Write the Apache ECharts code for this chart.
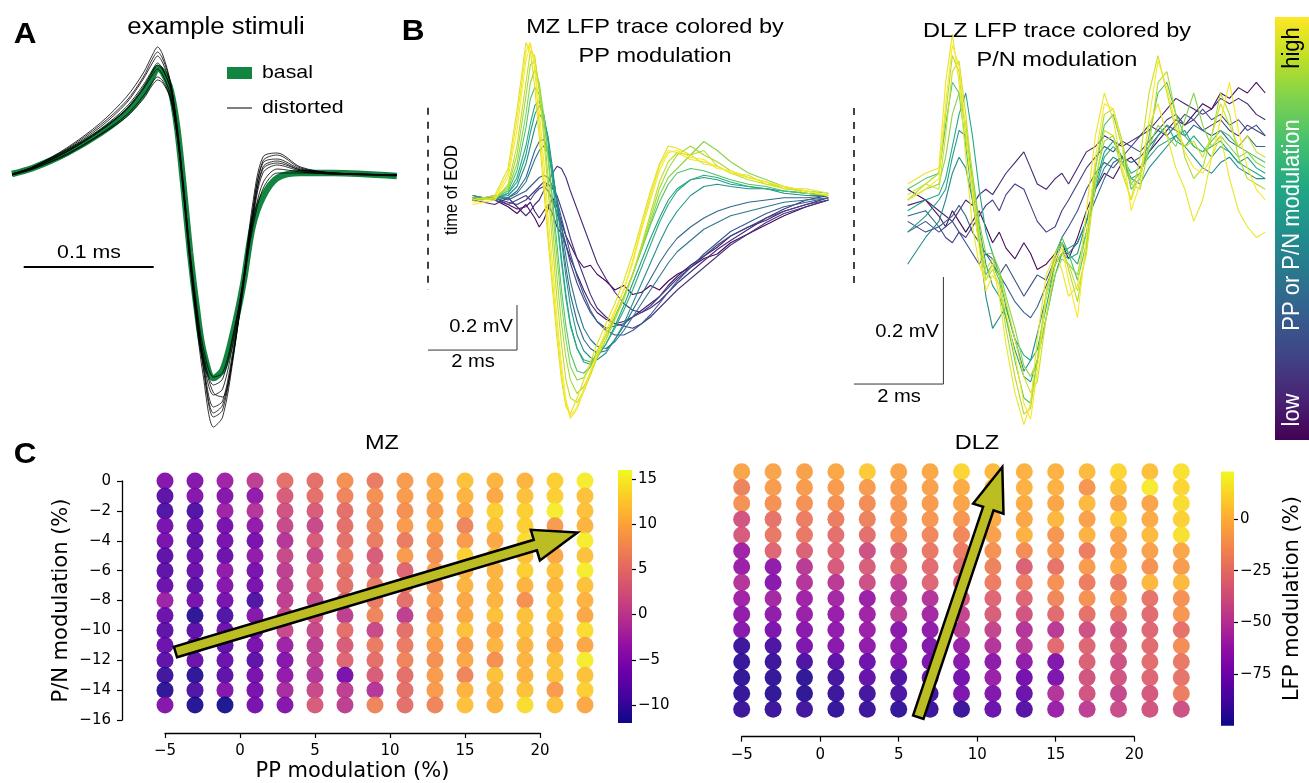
<!DOCTYPE html>
<html>
<head>
<meta charset="utf-8">
<script src="https://cdn.jsdelivr.net/npm/echarts@6/dist/echarts.min.js"></script>
<style>
html,body{margin:0;padding:0;background:#fff;}
#chart{width:1309px;height:783px;}
</style>
</head>
<body>
<div id="chart"></div>
<script>
// ---------- Panel A: example stimuli (time in microseconds, amplitude in a.u.) ----------
const stimTime = [0,16,42,68,88,101,108,112,116,122,127,132,137,142,147,155,162,170,178,185,193,204,222,247,296];
const basalEOD = [0.01,0.07,0.22,0.42,0.62,0.82,0.98,1.07,1.03,0.85,0.48,-0.12,-0.78,-1.32,-1.75,-2.03,-1.95,-1.58,-1.08,-0.52,-0.22,-0.03,0.02,0.02,-0.01];
const distortedEODs = [
  [0.0,0.08,0.27,0.52,0.78,1.02,1.2,1.28,1.2,0.92,0.45,-0.2,-0.9,-1.5,-2.0,-2.52,-2.42,-1.85,-1.05,-0.3,0.18,0.22,0.08,0.02,0.0],
  [0.01,0.08,0.25,0.48,0.72,0.96,1.12,1.19,1.12,0.9,0.46,-0.16,-0.86,-1.44,-1.92,-2.42,-2.35,-1.8,-1.05,-0.36,0.12,0.16,0.06,0.02,0.0],
  [0.0,0.07,0.24,0.46,0.68,0.9,1.05,1.12,1.06,0.86,0.44,-0.15,-0.83,-1.4,-1.86,-2.32,-2.26,-1.75,-1.06,-0.42,0.06,0.12,0.05,0.02,0.0],
  [0.01,0.07,0.23,0.44,0.65,0.86,1.0,1.06,1.0,0.8,0.4,-0.2,-0.86,-1.4,-1.84,-2.2,-2.14,-1.68,-1.04,-0.46,0.02,0.1,0.04,0.01,0.0],
  [0.0,0.06,0.21,0.41,0.6,0.79,0.93,0.98,0.94,0.77,0.4,-0.18,-0.82,-1.36,-1.78,-2.1,-2.04,-1.62,-1.05,-0.5,-0.08,0.06,0.03,0.01,0.0],
  [0.01,0.07,0.23,0.45,0.66,0.88,1.03,1.1,1.05,0.86,0.46,-0.16,-0.84,-1.42,-1.9,-2.38,-2.3,-1.82,-1.12,-0.44,0.08,0.14,0.05,0.02,0.0],
  [0.0,0.06,0.2,0.4,0.58,0.76,0.9,0.95,0.92,0.76,0.4,-0.14,-0.76,-1.3,-1.72,-2.02,-1.98,-1.6,-1.08,-0.54,-0.14,0.02,0.02,0.01,-0.01],
  [0.01,0.08,0.26,0.5,0.74,0.98,1.16,1.23,1.16,0.92,0.5,-0.1,-0.8,-1.36,-1.82,-2.18,-2.22,-1.8,-1.1,-0.38,0.14,0.2,0.07,0.02,0.0]
];

// ---------- Panel B: LFP traces (time in ms after EOD, voltage in mV) ----------
const mzTime = [1.0,1.5,1.8,2.0,2.2,2.3,2.4,2.5,2.6,2.7,2.8,2.9,3.0,3.1,3.2,3.35,3.5,3.65,3.8,4.0,4.2,4.4,4.6,4.8,5.0,5.2,5.4,5.6,5.9,6.2,6.5,6.8,7.2,7.6,8.0,8.5,9.0];
const mzPPLevel = [0.02,0.07,0.12,0.16,0.2,0.28,0.33,0.4,0.5,0.56,0.62,0.72,0.82,0.86,0.9,0.95,0.98,1.0];
const mzTraces = [
  [0.02,0.0,-0.03,-0.06,-0.02,-0.05,-0.08,-0.12,-0.09,-0.04,0.01,-0.03,-0.10,-0.16,-0.20,-0.26,-0.30,-0.29,-0.33,-0.36,-0.40,-0.38,-0.42,-0.41,-0.38,-0.40,-0.36,-0.33,-0.30,-0.26,-0.24,-0.19,-0.15,-0.11,-0.07,-0.03,0.0],
  [0.0,0.01,-0.02,-0.04,-0.03,-0.01,-0.05,-0.08,-0.05,-0.02,-0.06,-0.12,-0.15,-0.2,-0.26,-0.33,-0.4,-0.46,-0.5,-0.53,-0.55,-0.54,-0.52,-0.49,-0.46,-0.43,-0.38,-0.34,-0.29,-0.25,-0.21,-0.16,-0.12,-0.09,-0.05,-0.02,0.01],
  [0.0,-0.02,0.01,-0.03,-0.07,-0.05,-0.02,0.0,0.04,0.08,0.12,0.15,0.14,0.1,0.04,-0.04,-0.12,-0.2,-0.28,-0.35,-0.41,-0.46,-0.49,-0.5,-0.48,-0.45,-0.41,-0.37,-0.32,-0.27,-0.22,-0.18,-0.13,-0.08,-0.04,0.0,0.02],
  [0.0,0.01,-0.01,-0.02,0.0,0.02,0.04,0.06,0.08,0.07,0.05,0.02,-0.04,-0.1,-0.17,-0.26,-0.34,-0.42,-0.48,-0.52,-0.55,-0.56,-0.57,-0.55,-0.52,-0.48,-0.44,-0.4,-0.35,-0.3,-0.25,-0.2,-0.15,-0.1,-0.06,-0.03,0.0],
  [0.01,0.0,-0.02,0.0,0.02,0.0,0.03,0.05,0.06,0.04,0.0,-0.06,-0.12,-0.2,-0.28,-0.37,-0.44,-0.5,-0.54,-0.57,-0.56,-0.55,-0.52,-0.5,-0.47,-0.43,-0.39,-0.35,-0.3,-0.25,-0.2,-0.16,-0.12,-0.08,-0.05,-0.02,0.0],
  [0.0,0.02,0.0,0.02,0.04,0.06,0.08,0.10,0.11,0.10,0.06,0.0,-0.08,-0.16,-0.24,-0.34,-0.42,-0.49,-0.54,-0.58,-0.60,-0.60,-0.58,-0.55,-0.51,-0.46,-0.41,-0.36,-0.30,-0.24,-0.19,-0.14,-0.10,-0.06,-0.03,-0.01,0.01],
  [0.0,0.01,0.01,0.04,0.1,0.16,0.22,0.26,0.27,0.22,0.12,-0.02,-0.16,-0.3,-0.42,-0.54,-0.62,-0.66,-0.68,-0.67,-0.62,-0.56,-0.49,-0.42,-0.35,-0.28,-0.22,-0.17,-0.12,-0.08,-0.05,-0.03,-0.01,0.0,0.01,0.01,0.02],
  [0.01,0.0,0.01,0.03,0.08,0.13,0.18,0.22,0.24,0.21,0.12,0.0,-0.12,-0.25,-0.36,-0.48,-0.57,-0.62,-0.65,-0.66,-0.63,-0.58,-0.52,-0.46,-0.40,-0.34,-0.28,-0.23,-0.18,-0.13,-0.10,-0.07,-0.05,-0.03,-0.01,0.0,0.01],
  [0.0,0.01,0.02,0.06,0.16,0.24,0.32,0.38,0.36,0.28,0.14,-0.02,-0.18,-0.34,-0.47,-0.60,-0.67,-0.70,-0.71,-0.68,-0.62,-0.55,-0.46,-0.37,-0.28,-0.19,-0.11,-0.05,0.02,0.06,0.07,0.06,0.05,0.05,0.03,0.02,0.02],
  [0.01,0.01,0.03,0.08,0.2,0.3,0.38,0.42,0.38,0.27,0.1,-0.08,-0.26,-0.42,-0.55,-0.66,-0.72,-0.73,-0.7,-0.64,-0.56,-0.47,-0.37,-0.27,-0.17,-0.08,0.0,0.05,0.09,0.1,0.09,0.07,0.06,0.05,0.04,0.03,0.02],
  [0.02,0.0,0.03,0.10,0.24,0.34,0.42,0.44,0.38,0.25,0.08,-0.10,-0.28,-0.44,-0.56,-0.66,-0.71,-0.72,-0.69,-0.64,-0.57,-0.49,-0.40,-0.30,-0.20,-0.10,-0.02,0.04,0.09,0.11,0.10,0.08,0.06,0.05,0.04,0.03,0.02],
  [0.0,0.01,0.04,0.13,0.32,0.45,0.5,0.47,0.36,0.2,0.0,-0.2,-0.4,-0.56,-0.68,-0.76,-0.77,-0.74,-0.68,-0.6,-0.52,-0.43,-0.33,-0.22,-0.11,-0.01,0.07,0.12,0.14,0.13,0.11,0.09,0.07,0.06,0.04,0.03,0.02],
  [0.0,0.01,0.05,0.16,0.38,0.52,0.58,0.52,0.38,0.18,-0.04,-0.26,-0.46,-0.62,-0.74,-0.80,-0.79,-0.74,-0.67,-0.60,-0.52,-0.43,-0.33,-0.22,-0.10,0.02,0.10,0.14,0.20,0.26,0.22,0.17,0.12,0.09,0.06,0.04,0.03],
  [0.0,0.01,0.06,0.2,0.46,0.6,0.62,0.5,0.32,0.1,-0.12,-0.35,-0.55,-0.7,-0.8,-0.86,-0.83,-0.77,-0.7,-0.62,-0.53,-0.44,-0.33,-0.21,-0.08,0.05,0.14,0.2,0.24,0.2,0.17,0.13,0.1,0.08,0.05,0.04,0.02],
  [0.01,0.0,0.07,0.24,0.52,0.66,0.64,0.48,0.28,0.04,-0.20,-0.44,-0.64,-0.80,-0.88,-0.90,-0.85,-0.78,-0.70,-0.62,-0.53,-0.44,-0.33,-0.20,-0.06,0.08,0.17,0.21,0.20,0.22,0.15,0.12,0.09,0.07,0.06,0.03,0.02],
  [0.0,0.02,0.14,0.40,0.70,0.66,0.50,0.28,0.05,-0.18,-0.40,-0.62,-0.80,-0.92,-0.95,-0.88,-0.80,-0.72,-0.64,-0.55,-0.46,-0.36,-0.24,-0.10,0.04,0.16,0.24,0.23,0.20,0.16,0.15,0.12,0.11,0.07,0.05,0.05,0.03],
  [-0.01,0.01,0.12,0.36,0.66,0.7,0.58,0.34,0.1,-0.14,-0.36,-0.58,-0.77,-0.9,-0.97,-0.93,-0.85,-0.77,-0.69,-0.6,-0.5,-0.4,-0.27,-0.12,0.02,0.15,0.22,0.21,0.18,0.17,0.15,0.12,0.1,0.08,0.06,0.04,0.02],
  [-0.02,0,0.10,0.31,0.62,0.69,0.62,0.40,0.18,-0.07,-0.29,-0.53,-0.73,-0.89,-0.96,-0.92,-0.84,-0.76,-0.68,-0.58,-0.49,-0.40,-0.28,-0.13,0.0,0.13,0.21,0.22,0.19,0.18,0.14,0.13,0.10,0.08,0.06,0.04,0.02]
];

const dlzTime = [1.2,1.6,1.9,2.05,2.2,2.35,2.5,2.65,2.8,2.95,3.1,3.25,3.4,3.6,3.8,3.95,4.1,4.3,4.5,4.65,4.8,5.0,5.2,5.4,5.6,5.8,6.0,6.2,6.4,6.6,6.8,7.0,7.2,7.4,7.6,7.8,8.0,8.2,8.4,8.6,8.8,9.0,9.2];
const dlzPNLevel = [0.03,0.1,0.18,0.25,0.32,0.48,0.55,0.6,0.72,0.82,0.88,0.92,0.97,1.0];
const dlzTraces = [
  [0.02,0.0,-0.03,-0.05,-0.02,-0.04,-0.06,-0.04,-0.02,-0.05,-0.08,-0.06,-0.09,-0.11,-0.08,-0.1,-0.13,-0.12,-0.1,-0.08,-0.11,-0.07,-0.02,0.02,0.05,0.04,0.07,0.08,0.06,0.09,0.11,0.13,0.15,0.14,0.16,0.18,0.17,0.2,0.19,0.21,0.2,0.22,0.2],
  [-0.01,0.0,-0.02,-0.03,-0.04,-0.02,0.0,-0.01,0.01,0.02,0.01,0.03,0.05,0.07,0.09,0.06,0.03,0.02,0.04,0.05,0.03,0.06,0.09,0.1,0.12,0.11,0.1,0.11,0.12,0.13,0.15,0.17,0.19,0.18,0.17,0.16,0.17,0.19,0.18,0.19,0.18,0.16,0.15],
  [-0.04,-0.06,-0.05,-0.07,-0.08,-0.06,-0.07,-0.05,-0.03,-0.01,0.0,-0.02,0.01,0.03,0.02,-0.01,-0.04,-0.06,-0.05,-0.02,0.0,0.03,0.06,0.08,0.1,0.09,0.11,0.1,0.12,0.14,0.13,0.15,0.16,0.14,0.15,0.13,0.14,0.15,0.13,0.12,0.14,0.13,0.12],
  [-0.06,-0.04,-0.06,-0.05,-0.04,-0.06,-0.08,-0.1,-0.12,-0.1,-0.11,-0.14,-0.12,-0.15,-0.18,-0.16,-0.14,-0.15,-0.11,-0.07,-0.05,-0.02,0.02,0.05,0.07,0.06,0.08,0.1,0.09,0.11,0.13,0.12,0.14,0.16,0.15,0.17,0.15,0.16,0.14,0.15,0.13,0.14,0.12],
  [-0.03,-0.02,-0.05,-0.04,-0.03,-0.01,-0.03,-0.06,-0.08,-0.1,-0.12,-0.14,-0.16,-0.19,-0.21,-0.22,-0.2,-0.16,-0.12,-0.1,-0.1,-0.08,-0.04,0.0,0.04,0.07,0.08,0.07,0.08,0.1,0.12,0.14,0.13,0.12,0.14,0.13,0.12,0.13,0.11,0.1,0.12,0.1,0.1],
  [-0.12,-0.07,-0.04,0.0,0.05,0.08,0.06,0.0,-0.08,-0.18,-0.24,-0.22,-0.2,-0.26,-0.32,-0.3,-0.25,-0.18,-0.12,-0.1,-0.09,-0.08,-0.04,0.02,0.06,0.08,0.07,0.04,0.03,0.06,0.08,0.1,0.12,0.1,0.08,0.06,0.05,0.07,0.08,0.06,0.05,0.04,0.04],
  [-0.06,-0.03,0.0,0.02,0.08,0.13,0.12,0.04,-0.05,-0.12,-0.16,-0.18,-0.22,-0.28,-0.33,-0.34,-0.3,-0.22,-0.14,-0.1,-0.11,-0.1,-0.04,0.03,0.09,0.11,0.08,0.04,0.05,0.09,0.12,0.14,0.11,0.1,0.12,0.1,0.08,0.1,0.09,0.07,0.06,0.05,0.04],
  [-0.02,0.0,0.01,0.04,0.1,0.16,0.2,0.12,0.02,-0.06,-0.1,-0.14,-0.2,-0.26,-0.29,-0.3,-0.28,-0.2,-0.12,-0.08,-0.1,-0.12,-0.06,0.02,0.08,0.1,0.08,0.05,0.06,0.08,0.1,0.11,0.12,0.13,0.1,0.09,0.1,0.11,0.09,0.07,0.08,0.06,0.05],
  [0.02,0.04,0.05,0.14,0.22,0.2,0.1,0.0,-0.08,-0.14,-0.12,-0.15,-0.22,-0.3,-0.37,-0.38,-0.3,-0.18,-0.1,-0.07,-0.1,-0.15,-0.08,0.06,0.14,0.16,0.1,0.02,0.04,0.12,0.2,0.22,0.16,0.12,0.1,0.09,0.11,0.13,0.12,0.1,0.09,0.08,0.07],
  [0.0,0.02,0.03,0.08,0.16,0.2,0.14,0.05,-0.04,-0.1,-0.1,-0.13,-0.18,-0.24,-0.31,-0.33,-0.3,-0.22,-0.14,-0.11,-0.12,-0.14,-0.06,0.04,0.11,0.12,0.07,0.03,0.05,0.1,0.14,0.12,0.1,0.15,0.2,0.14,0.1,0.12,0.1,0.08,0.09,0.07,0.06],
  [0.0,0.03,0.05,0.16,0.27,0.24,0.12,0.02,-0.07,-0.15,-0.13,-0.16,-0.24,-0.33,-0.4,-0.39,-0.3,-0.17,-0.1,-0.08,-0.13,-0.19,-0.09,0.06,0.16,0.17,0.11,0.03,0.02,0.1,0.22,0.24,0.16,0.08,0.04,0.06,0.12,0.2,0.16,0.08,0.04,0.03,0.02],
  [0.01,0.03,0.02,0.12,0.24,0.26,0.16,0.04,-0.06,-0.13,-0.11,-0.14,-0.19,-0.26,-0.33,-0.36,-0.34,-0.22,-0.12,-0.10,-0.12,-0.17,-0.10,0.03,0.13,0.12,0.05,0.0,0.08,0.2,0.27,0.2,0.13,0.1,0.11,0.08,0.12,0.18,0.14,0.1,0.12,0.09,0.08],
  [0.03,0.05,0.06,0.22,0.31,0.22,0.08,-0.05,-0.12,-0.15,-0.12,-0.18,-0.27,-0.36,-0.42,-0.38,-0.26,-0.14,-0.10,-0.13,-0.18,-0.16,-0.02,0.12,0.20,0.15,0.06,0.0,0.05,0.14,0.18,0.12,0.06,0.02,-0.04,0.0,0.08,0.12,0.04,-0.02,-0.05,-0.07,-0.06],
  [0.0,0.02,0.04,0.18,0.29,0.25,0.13,0.01,-0.09,-0.17,-0.14,-0.16,-0.21,-0.29,-0.38,-0.41,-0.32,-0.18,-0.11,-0.09,-0.15,-0.22,-0.07,0.08,0.18,0.17,0.1,-0.02,0.03,0.15,0.26,0.21,0.14,0.09,0.06,0.05,0.08,0.15,0.22,0.13,0.06,0.02,0.0]
];

// ---------- Panel C: LFP modulation (%) on the PP x P/N stimulus grid ----------
const ppModulation = [-5,-3,-1,1,3,5,7,9,11,13,15,17,19,21,23];
const pnModulation = [0,-1,-2,-3,-4,-5,-6,-7,-8,-9,-10,-11,-12,-13,-14,-15];
// one row per PP column, values listed from P/N = 0 down to P/N = -15
const mzLfpModulation = [
  [-5,-8,-9,-6,-6,-8,-8,-7,-3,-7,-8,-7,-8,-10,-11,-5],
  [-5,-5,-9,-7,-8,-7,-7,-8,-6,-11,-8,-7,-7,-11,-9,-11.5],
  [-3,-5,-3,-6,-6,-7,-4,-5,-6,-9,-7,-8,-7,-8,-5,-12],
  [0,-4,-1,-4,-6,-4,-6,-6,-9,-5,-6,-6,-8,-6,-6,-6],
  [5,3,2,1,-1,1,0,0,0,1,1,-3,-5,-4,-2,-5],
  [5,5,3,1,3,1,3,3,1,2,1,0,0,-1,1,3],
  [8,7,5,5,5,6,5,5,4,0,5,3,4,-6,0,0],
  [6,8,7,7,6,3,4,6,6,7,1,6,5,3,-1,7],
  [9,9,8,9,6,9,4,6,5,0,5,6,7,5,5,5],
  [10,10,9,10,8,8,9,8,9,8,10,9,8,9,9,7],
  [12,11,10,7,9,13,11,11,10,10,12,9,10,7,11,12],
  [11,10,13,12,10,12,11,11,11,12,10,11,8,12,11,11],
  [11,12,13,13,14,12,13,11,8,12,12,11,11,11,12,14],
  [13,13,15,9,9,10,12,11,12,12,11,10,12,12,9,12],
  [15,12,12,11,15,12,15,12,11,10,14,10,15,12,13,10]
];
const dlzLfpModulation = [
  [-5,-18,-12,-38,-35,-60,-62,-52,-60,-65,-68,-92,-94,-95,-94,-92],
  [-5,-8,-12,-24,-22,-30,-65,-68,-58,-65,-72,-88,-92,-94,-95,-92],
  [-6,-8,-12,-20,-22,-32,-50,-52,-60,-62,-68,-72,-88,-95,-96,-90],
  [-3,-8,-12,-20,-26,-30,-35,-50,-58,-63,-65,-68,-83,-90,-92,-94],
  [8,-8,-14,-18,-26,-40,-34,-40,-62,-60,-62,-65,-78,-80,-90,-92],
  [-5,-8,-10,-12,-14,-32,-28,-46,-52,-48,-68,-65,-70,-88,-88,-94],
  [-3,-6,-8,-10,-16,-22,-28,-30,-52,-58,-65,-70,-72,-78,-90,-92],
  [12,-2,-5,-10,-16,-20,-26,-32,-38,-45,-50,-62,-68,-74,-72,-92],
  [3,2,0,-2,-6,-12,-18,-20,-30,-34,-45,-52,-66,-62,-70,-78],
  [0,0,-2,-4,0,-14,-32,-20,-30,-38,-52,-50,-65,-75,-78,-85],
  [0,0,-4,2,-10,-10,-24,-12,-16,-28,-50,-28,-70,-72,-52,-62],
  [3,-10,3,-6,0,-20,-8,-20,-12,-25,-40,-30,-32,-38,-38,-48],
  [12,6,-5,8,-5,-8,-2,-22,-12,-24,-38,-34,-40,-38,-44,-42],
  [5,18,-5,-2,3,-6,-12,2,-24,-28,-30,-28,-27,-30,-36,-38],
  [15,12,14,10,15,-4,-8,3,-12,-10,-25,-14,-22,-24,-20,-40]
];
// direction of steepest LFP change: [pp start, pn start, pp end, pn end]
const mzGradientArrow = [-4.3, -11.45, 22.5, -3.45];
const dlzGradientArrow = [6.25, -15.5, 11.6, 0.3];

// colour-bar ranges and ticks
const mzCbarRange = [-12, 16];
const mzCbarTicks = [15, 10, 5, 0, -5, -10];
const dlzCbarRange = [-100, 23];
const dlzCbarTicks = [0, -25, -50, -75];

// ---------- colour maps ----------
const viridis = ['#440154','#482475','#414487','#355f8d','#2a788e','#21918c','#22a884','#44bf70','#7ad151','#bddf26','#fde725'];
const plasma = ['#0d0887','#41049d','#6a00a8','#8f0da4','#b12a90','#cc4778','#e16462','#f2844b','#fca636','#fcce25','#f0f921'];
function hexRgb(h) { return [1,3,5].map(i => parseInt(h.slice(i, i + 2), 16)); }
function colorAt(stops, t) {
  t = Math.max(0, Math.min(1, t));
  const s = t * (stops.length - 1);
  const i = Math.min(Math.floor(s), stops.length - 2);
  const f = s - i;
  const a = hexRgb(stops[i]), b = hexRgb(stops[i + 1]);
  return 'rgb(' + a.map((v, k) => Math.round(v + (b[k] - v) * f)).join(',') + ')';
}
function gradient(stops) {
  return new echarts.graphic.LinearGradient(0, 0, 0, 1,
    stops.slice().reverse().map((c, i) => ({ offset: i / (stops.length - 1), color: c })));
}

const HELV = '"Liberation Sans", Arial, Helvetica, sans-serif';
const DEJAVU = '"DejaVu Sans", sans-serif';
const GREEN = '#128640';
const minus = v => String(v).replace('-', '\u2212');

// ---------- grids ----------
const grids = [
  { left: 12, top: 35, width: 390, height: 410 },          // A
  { left: 428, top: 20, width: 402.7, height: 405 },       // B, MZ
  { left: 854, top: 12.75, width: 413.5, height: 428 },    // B, DLZ
  { left: 165, top: 481, width: 375, height: 240 },        // C, MZ
  { left: 741.7, top: 471.7, width: 392.5, height: 237.6 },// C, DLZ
  { left: 618, top: 470, width: 14, height: 253 },         // MZ colour bar
  { left: 1221, top: 471.5, width: 13, height: 254.2 }     // DLZ colour bar
];
const hiddenX = (g, min, max) => ({ gridIndex: g, type: 'value', min, max, show: false });
const hiddenY = (g, min, max) => ({ gridIndex: g, type: 'value', min, max, show: false });

const tickStyle = { show: true, length: 5, lineStyle: { color: '#000', width: 1.2 } };
const labelStyle = { color: '#000', fontFamily: DEJAVU, fontSize: 15, formatter: minus };
const spine = { show: true, onZero: false, lineStyle: { color: '#000', width: 1.3 } };

const xAxes = [
  hiddenX(0, 0, 300),
  hiddenX(1, 0, 9.05),
  hiddenX(2, 0, 9.25),
  { gridIndex: 3, type: 'value', min: -5, max: 20, interval: 5, offset: 13,
    axisLine: spine, axisTick: tickStyle,
    axisLabel: Object.assign({ margin: 11 }, labelStyle), splitLine: { show: false },
    name: 'PP modulation (%)', nameLocation: 'middle', nameGap: 28,
    nameTextStyle: { fontFamily: DEJAVU, fontSize: 21, color: '#000' } },
  { gridIndex: 4, type: 'value', min: -5, max: 20, interval: 5, offset: 27.4,
    axisLine: spine, axisTick: tickStyle,
    axisLabel: Object.assign({ margin: 11 }, labelStyle), splitLine: { show: false } },
  hiddenX(5, 0, 1),
  hiddenX(6, 0, 1)
];
const cbarAxis = (g, range, ticks, name) => ({
  gridIndex: g, type: 'value', min: range[0], max: range[1], position: 'right',
  axisLine: { show: false, onZero: false }, splitLine: { show: false },
  axisTick: { show: true, length: 4, customValues: ticks, lineStyle: { color: '#000', width: 1.2 } },
  axisLabel: { customValues: ticks, margin: 6, color: '#000', fontFamily: DEJAVU, fontSize: 15, formatter: minus },
  name: name || '', nameLocation: 'middle', nameGap: 48, nameRotate: 90,
  nameTextStyle: { fontFamily: DEJAVU, fontSize: 21, color: '#000' }
});
const yAxes = [
  hiddenY(0, -2.7, 1.4),
  hiddenY(1, -1.0, 0.8),
  hiddenY(2, -0.45, 0.35),
  { gridIndex: 3, type: 'value', min: -16, max: 0, interval: 2, offset: 43,
    axisLine: spine, axisTick: tickStyle,
    axisLabel: Object.assign({ margin: 11 }, labelStyle), splitLine: { show: false },
    name: 'P/N modulation (%)', nameLocation: 'middle', nameGap: 50,
    nameTextStyle: { fontFamily: DEJAVU, fontSize: 21, color: '#000' } },
  hiddenY(4, -15, 0),
  cbarAxis(5, mzCbarRange, mzCbarTicks),
  cbarAxis(6, dlzCbarRange, dlzCbarTicks, 'LFP modulation (%)')
];

// ---------- series ----------
const series = [];
const pairs = (xs, ys) => xs.map((x, i) => [x, ys[i]]);
const plainLine = (g, data, color, width, extra) => Object.assign({
  type: 'line', xAxisIndex: g, yAxisIndex: g, data, symbol: 'none', silent: true,
  animation: false, lineStyle: { color, width }
}, extra || {});

// A: basal stimulus with distorted versions on top
series.push(plainLine(0, pairs(stimTime, basalEOD), GREEN, 6.5, { smooth: 0.3, z: 2 }));
distortedEODs.forEach(d => series.push(plainLine(0, pairs(stimTime, d), '#000', 0.8, { smooth: 0.3, z: 3 })));
series.push(plainLine(0, [[9, -0.92], [109, -0.92]], '#000', 2));        // 0.1 ms scale bar

// B: traces, low modulation drawn first
mzTraces.forEach((tr, i) => series.push(plainLine(1, pairs(mzTime, tr), colorAt(viridis, mzPPLevel[i]), 1.1)));
series.push(plainLine(1, [[0, 0.41], [0, -0.4]], '#000', 1.5, { lineStyle: { color: '#000', width: 1.5, type: [7, 7] } }));
series.push(plainLine(1, [[2, -0.467], [2, -0.667], [0, -0.667]], '#333', 1));
dlzTraces.forEach((tr, i) => series.push(plainLine(2, pairs(dlzTime, tr), colorAt(viridis, dlzPNLevel[i]), 1.1)));
series.push(plainLine(2, [[0, 0.172], [0, -0.168]], '#000', 1.5, { lineStyle: { color: '#000', width: 1.5, type: [7, 7] } }));
series.push(plainLine(2, [[2, -0.144], [2, -0.344], [0, -0.344]], '#333', 1));

// C: scatter grids coloured by LFP modulation
const gridPoints = m => {
  const out = [];
  ppModulation.forEach((pp, ci) => pnModulation.forEach((pn, ri) => out.push([pp, pn, m[ci][ri]])));
  return out;
};
const mzScatterIndex = series.length;
series.push({ type: 'scatter', xAxisIndex: 3, yAxisIndex: 3, data: gridPoints(mzLfpModulation),
  symbolSize: 17, clip: false, silent: true, animation: false, itemStyle: { opacity: 0.92 }, z: 2 });
const dlzScatterIndex = series.length;
series.push({ type: 'scatter', xAxisIndex: 4, yAxisIndex: 4, data: gridPoints(dlzLfpModulation),
  symbolSize: 17, clip: false, silent: true, animation: false, itemStyle: { opacity: 0.92 }, z: 2 });

function renderArrow(params, api) {
  const a = api.coord([api.value(0), api.value(1)]);
  const b = api.coord([api.value(2), api.value(3)]);
  const dx = b[0] - a[0], dy = b[1] - a[1], L = Math.hypot(dx, dy);
  const ux = dx / L, uy = dy / L, nx = -uy, ny = ux;
  const sw = 5.5, hw = 16, hl = 44;
  const bx = b[0] - ux * hl, by = b[1] - uy * hl;
  const pts = [
    [a[0] + nx * sw, a[1] + ny * sw], [bx + nx * sw, by + ny * sw], [bx + nx * hw, by + ny * hw],
    [b[0], b[1]],
    [bx - nx * hw, by - ny * hw], [bx - nx * sw, by - ny * sw], [a[0] - nx * sw, a[1] - ny * sw]
  ];
  return { type: 'polygon', shape: { points: pts },
    style: { fill: '#bcbd22', stroke: '#000', lineWidth: 2.5, lineJoin: 'miter' } };
}
series.push({ type: 'custom', xAxisIndex: 3, yAxisIndex: 3, data: [mzGradientArrow], renderItem: renderArrow, clip: false, silent: true, z: 5 });
series.push({ type: 'custom', xAxisIndex: 4, yAxisIndex: 4, data: [dlzGradientArrow], renderItem: renderArrow, clip: false, silent: true, z: 5 });

// colour bars
const cbarRender = range => (params, api) => {
  const p0 = api.coord([0, range[1]]), p1 = api.coord([1, range[0]]);
  return { type: 'rect', shape: { x: p0[0], y: p0[1], width: p1[0] - p0[0], height: p1[1] - p0[1] },
    style: { fill: gradient(plasma) } };
};
series.push({ type: 'custom', xAxisIndex: 5, yAxisIndex: 5, data: [[0]], renderItem: cbarRender(mzCbarRange), silent: true });
series.push({ type: 'custom', xAxisIndex: 6, yAxisIndex: 6, data: [[0]], renderItem: cbarRender(dlzCbarRange), silent: true });

// ---------- text and decorations ----------
function txt(text, x, y, o) {
  o = o || {};
  const align = o.align || 'center';
  return { type: 'text', x, y, rotation: o.rot || 0, scaleX: o.sx || 1.12, scaleY: o.sy || 1, z: 10, silent: true,
    style: { text, font: (o.bold ? 'bold ' : '') + (o.size || 20) + 'px ' + (o.family || HELV),
      fill: o.color || '#000', align, verticalAlign: 'middle', textAlign: align, textVerticalAlign: 'middle' } };
}
const graphics = [
  txt('A', 25, 35, { bold: true, size: 30, sx: 1.05 }),
  txt('B', 413, 32, { bold: true, size: 30, sx: 1.05 }),
  txt('C', 25, 455, { bold: true, size: 30, sx: 1.05 }),
  txt('example stimuli', 216, 28, { size: 23 }),
  { type: 'rect', shape: { x: 227, y: 67, width: 25, height: 12 }, style: { fill: GREEN }, z: 10, silent: true },
  { type: 'line', shape: { x1: 227, y1: 108, x2: 252, y2: 108 }, style: { stroke: '#000', lineWidth: 1 }, z: 10, silent: true },
  txt('basal', 262, 73, { size: 19, align: 'left' }),
  txt('distorted', 262, 108, { size: 19, align: 'left' }),
  txt('0.1 ms', 89, 253, { size: 19 }),
  txt('MZ LFP trace colored by', 655, 27, { size: 21 }),
  txt('PP modulation', 655, 56, { size: 21 }),
  txt('DLZ LFP trace colored by', 1057, 31, { size: 21 }),
  txt('P/N modulation', 1057, 60, { size: 21 }),
  txt('time of EOD', 452, 190, { size: 16.5, rot: Math.PI / 2, sx: 1, sy: 1.1 }),
  txt('0.2 mV', 513, 327, { size: 18, align: 'right' }),
  txt('2 ms', 473, 362, { size: 18 }),
  txt('0.2 mV', 939, 332, { size: 18, align: 'right' }),
  txt('2 ms', 899, 397, { size: 18 }),
  { type: 'rect', shape: { x: 1275, y: 17, width: 34, height: 423 }, style: { fill: gradient(viridis) }, z: 9, silent: true },
  txt('high', 1292, 48, { size: 22, rot: Math.PI / 2, sx: 1, sy: 1.1 }),
  txt('PP or P/N modulation', 1292, 225, { size: 22, rot: Math.PI / 2, sx: 1, sy: 1.1, color: '#fff' }),
  txt('low', 1292, 410, { size: 22, rot: Math.PI / 2, sx: 1, sy: 1.1, color: '#fff' }),
  txt('MZ', 382, 443, { size: 21 }),
  txt('DLZ', 977, 443, { size: 21 })
];

const chart = echarts.init(document.getElementById('chart'), null, { renderer: 'canvas' });
chart.setOption({
  animation: false,
  backgroundColor: '#fff',
  grid: grids,
  xAxis: xAxes,
  yAxis: yAxes,
  visualMap: [
    { type: 'continuous', show: false, seriesIndex: mzScatterIndex, dimension: 2,
      min: mzCbarRange[0], max: mzCbarRange[1], inRange: { color: plasma } },
    { type: 'continuous', show: false, seriesIndex: dlzScatterIndex, dimension: 2,
      min: dlzCbarRange[0], max: dlzCbarRange[1], inRange: { color: plasma } }
  ],
  series,
  graphic: graphics
});
</script>
</body>
</html>
